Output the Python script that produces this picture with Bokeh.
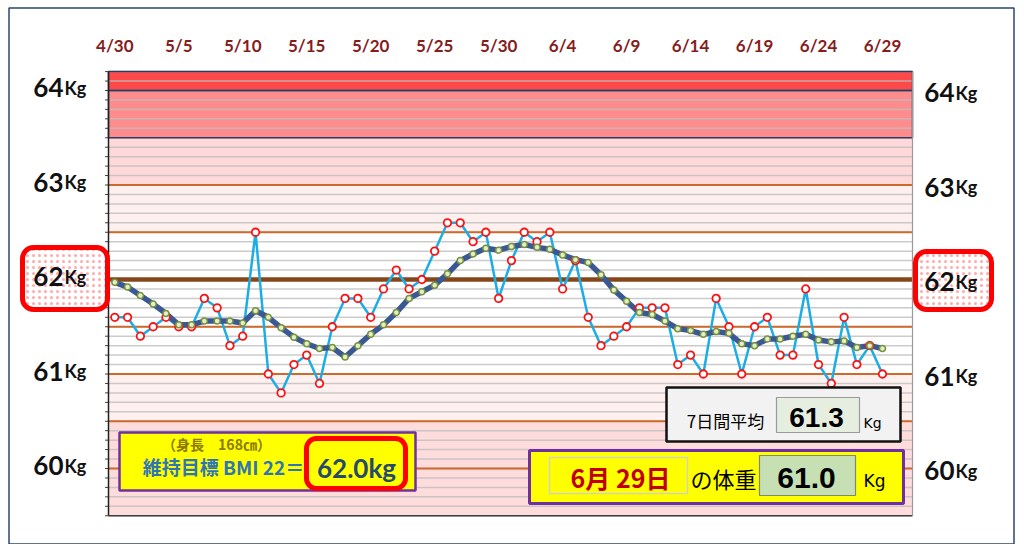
from bokeh.plotting import figure
from bokeh.models import Range1d, Label, BoxAnnotation
from bokeh.core.properties import value
from bokeh.embed import file_html
from bokeh.resources import INLINE

# ---------------- data ----------------
days = list(range(0, 61))          # day index, 0 = 4/30, 60 = 6/29
weight = [61.6, 61.6, 61.4, 61.5, 61.6, 61.5, 61.5, 61.8, 61.7, 61.3,
          61.4, 62.5, 61.0, 60.8, 61.1, 61.2, 60.9, 61.5, 61.8, 61.8,
          61.6, 61.9, 62.1, 61.9, 62.0, 62.3, 62.6, 62.6, 62.4, 62.5,
          61.8, 62.2, 62.5, 62.4, 62.5, 61.9, 62.2, 61.6, 61.3, 61.4,
          61.5, 61.7, 61.7, 61.7, 61.1, 61.2, 61.0, 61.8, 61.5, 61.0,
          61.5, 61.6, 61.2, 61.2, 61.9, 61.1, 60.9, 61.6, 61.1, 61.3,
          61.0]
avg7 = [61.97, 61.92, 61.83, 61.74, 61.64, 61.52, 61.52, 61.56, 61.56, 61.56,
        61.54, 61.67, 61.60, 61.49, 61.39, 61.32, 61.27, 61.28, 61.18, 61.30,
        61.42, 61.52, 61.65, 61.80, 61.87, 61.94, 62.06, 62.20, 62.27, 62.33,
        62.31, 62.35, 62.37, 62.34, 62.32, 62.26, 62.21, 62.18, 62.05, 61.89,
        61.77, 61.65, 61.63, 61.56, 61.48, 61.46, 61.42, 61.45, 61.43, 61.32,
        61.30, 61.37, 61.37, 61.40, 61.42, 61.36, 61.34, 61.35, 61.28, 61.30,
        61.27]
tick_days = [0, 5, 10, 15, 20, 25, 30, 35, 40, 45, 50, 55, 60]
tick_labels = ["4/30", "5/5", "5/10", "5/15", "5/20", "5/25", "5/30",
               "6/4", "6/9", "6/14", "6/19", "6/24", "6/29"]
kg_labels = [64, 63, 62, 61, 60]
grid_kg = [round(59.5 + 0.1 * i, 1) for i in range(48)]
orange_levels = [63.0, 62.5, 61.5, 61.0, 60.5, 60.0]
target_kg = 62.0
y_min, y_max = 59.5, 64.2
band_bottom = [64.0, 63.5, 63.0, 62.5, 60.5, 59.5]
band_top = [64.2, 64.0, 63.5, 63.0, 61.0, 60.5]
band_color = ["#FF4848", "#FF8C8C", "#FFD9D9", "#FFF0F0", "#FFF0F0", "#FFDCDC"]
avg_text = "61.3"
today_text = "6月 29日"
today_weight = "61.0"
height_text = "（身長　168㎝）"
bmi_text = "維持目標 BMI 22＝"
bmi_kg_text = "62.0kg"

# ---------------- geometry (canvas px -> data) ----------------
W, H = 1016, 544
X0, PXD = 114.3, 12.795      # canvas x of day 0, px per day
Y62, PXK = 279.0, 94.5       # canvas y of 62 kg, px per kg


def dx(X):
    return (X - X0) / PXD


def dy(Y):
    return 62.0 - (Y - Y62) / PXK


XL, XR = dx(108), dx(912)    # plot area edges

p = figure(width=W, height=H, output_backend="svg", toolbar_location=None,
           x_range=Range1d(dx(0), dx(W)), y_range=Range1d(dy(H), dy(0)),
           x_axis_type=None, y_axis_type=None,
           min_border=0, min_border_left=0, min_border_right=0,
           min_border_top=0, min_border_bottom=0,
           background_fill_color="white", border_fill_color="white")
p.outline_line_color = None
p.grid.visible = False

# background bands
p.quad(left=XL, right=XR, bottom=band_bottom, top=band_top,
       fill_color=band_color, line_color=None)
# 0.1 kg grid lines
p.segment(x0=XL, x1=XR, y0=grid_kg, y1=grid_kg, line_color="#BEBEBE",
          line_width=1.5, line_alpha=0.8)
# border of the red zones
p.quad(left=XL, right=XR, bottom=band_bottom[:2], top=band_top[:2],
       fill_color=None, line_color="#283C64", line_width=1.5)
# reference lines
p.segment(x0=XL, x1=XR, y0=orange_levels, y1=orange_levels,
          line_color="#CC6A2C", line_width=2)
p.segment(x0=dx(104), x1=XR, y0=[target_kg], y1=[target_kg],
          line_color="#86461A", line_width=4.5)
# plot area edges and left ticks
p.segment(x0=dx(104.5), x1=XL, y0=grid_kg, y1=grid_kg, line_color="#404040", line_width=1)
p.segment(x0=[XL, XL, XR], x1=[XL, XR, XR], y0=[y_min, y_min, y_min],
          y1=[y_max, y_min, y_max], line_color=["#202020", "#404040", "#9A9A9A"],
          line_width=[1.5, 1.5, 1.2])

# date labels
p.text(x=tick_days, y=[dy(45)] * len(tick_days), text=tick_labels,
       text_font=value("Lato"), text_font_style="bold", text_font_size="17px",
       text_color="#861C1C", text_align="center", text_baseline="alphabetic")

# data
p.line(days, weight, line_color="#1BAEE6", line_width=2.5)
p.line(days, avg7, line_color="#3A5894", line_width=5.5, line_join="round")
p.scatter(days, weight, marker="circle", size=7.5, line_color="#FF1010",
          fill_color="white", line_width=1.8)
p.scatter(days, avg7, marker="circle", size=6, line_color="#76923C",
          fill_color="#E4EEC8", line_width=1.5)


def box(x1, y1, x2, y2, fill, line, lw, radius=0, **kw):
    p.add_layout(BoxAnnotation(left=dx(x1), right=dx(x2), top=dy(y1), bottom=dy(y2),
                               fill_color=fill if fill else "white",
                               fill_alpha=1 if fill else 0,
                               line_color=line, line_alpha=1, line_width=lw,
                               border_radius=radius, **kw))


def text(X, Y, s, size, color="black", font="Noto Sans CJK JP", style="normal",
         align="center", baseline="middle"):
    p.add_layout(Label(x=dx(X), y=dy(Y), text=s, text_font=font,
                       text_font_size=f"{size}px", text_font_style=style,
                       text_color=color, text_align=align, text_baseline=baseline))


# 62kg highlight boxes
box(22, 247, 107, 309, "white", "#FF0000", 5, 11,
    hatch_pattern="dot", hatch_color="#FFAAAA", hatch_scale=6, hatch_weight=1)
box(915, 251, 991, 309, "white", "#FF0000", 5, 11,
    hatch_pattern="dot", hatch_color="#FFAAAA", hatch_scale=6, hatch_weight=1)

# kg labels left / right
for kg in kg_labels:
    yl = Y62 - (kg - 62) * PXK
    text(63, yl - 3, str(kg), 26, "#111111", "Lato", "bold", "right", "alphabetic")
    text(64, yl - 3, "Kg", 18, "#111111", "Lato", "bold", "left", "alphabetic")
    text(954, yl + 2, str(kg), 26, "#111111", "Lato", "bold", "right", "alphabetic")
    text(955, yl + 2, "Kg", 18, "#111111", "Lato", "bold", "left", "alphabetic")

# BMI box
box(119, 432, 415, 490, "#FFFF00", "#7030A0", 2.5)
text(216, 443, height_text, 14, "#8C7B00", style="bold")
text(223, 466, bmi_text, 19, "#2E75B6", style="bold")
box(306, 438, 405, 488, "#FFFF00", "#FF0000", 5, 10)
text(356, 467, bmi_kg_text, 26, "#254A6E", "Lato", "bold")

# 7-day average box
box(666, 387, 900, 441, "#F2F2F2", "#111111", 2.5)
text(725, 420, "7日間平均", 17)
box(776, 397, 859, 432, "#E6EFDF", "#9A9A9A", 1.2)
text(816, 417, avg_text, 28, "black", "Liberation Sans", "bold")
text(872, 422, "Kg", 14, "black", "DejaVu Sans")

# today box
box(529, 450, 903, 503, "#FFFF00", "#7030A0", 3)
box(549, 457, 687, 493, "#FFFF00", "#D2D2BE", 1.5)
text(620, 476, today_text, 25, "#C00000", style="bold")
text(723, 477, "の体重", 22)
box(759, 455, 855, 495, "#C6E0B4", "#808A70", 1.2)
text(806, 477, today_weight, 30, "black", "Liberation Sans", "bold")
text(874, 480, "Kg", 17, "black", "DejaVu Sans")

# outer frame
box(8.5, 7.5, 1013.5, 543.5, None, "#2F4470", 1.5)

open("out.html", "w").write(file_html(p, INLINE))
